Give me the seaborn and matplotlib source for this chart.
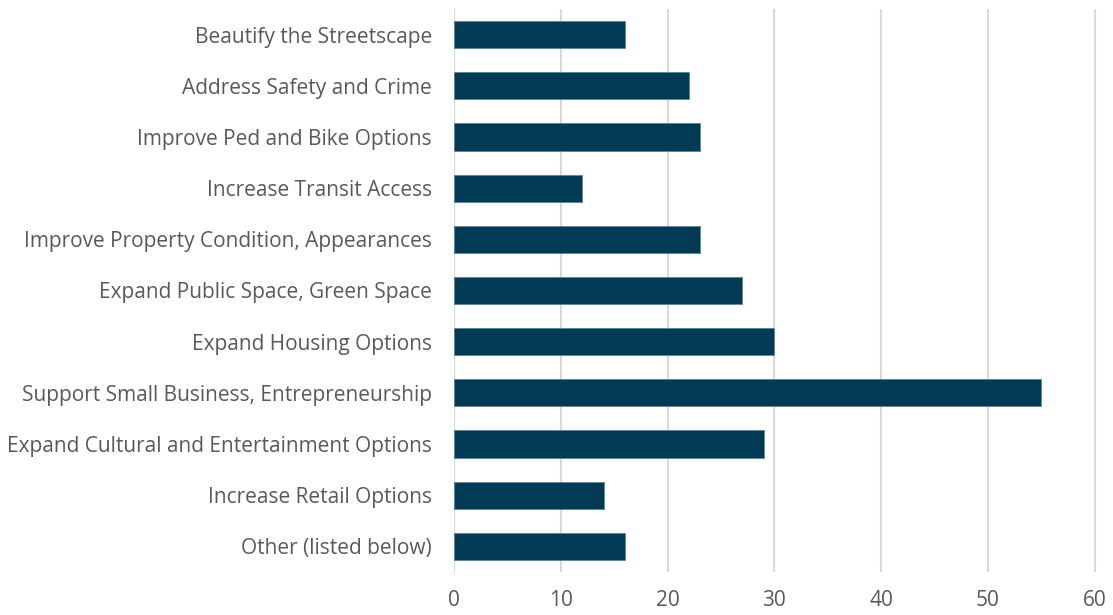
import matplotlib
matplotlib.use("Agg")
import matplotlib.pyplot as plt
import seaborn as sns
import pandas as pd

categories = [
    "Beautify the Streetscape",
    "Address Safety and Crime",
    "Improve Ped and Bike Options",
    "Increase Transit Access",
    "Improve Property Condition, Appearances",
    "Expand Public Space, Green Space",
    "Expand Housing Options",
    "Support Small Business, Entrepreneurship",
    "Expand Cultural and Entertainment Options",
    "Increase Retail Options",
    "Other (listed below)",
]
values = [16, 22, 23, 12, 23, 27, 30, 55, 29, 14, 16]
x_ticks = [0, 10, 20, 30, 40, 50, 60]

df = pd.DataFrame({"category": categories, "value": values})

sns.set_theme(style="white")
plt.rcParams["font.family"] = ["Open Sans", "DejaVu Sans"]

fig = plt.figure(figsize=(11.13, 6.15), dpi=100)
ax = fig.add_axes([0.4079, 0.0699, 0.5786, 0.9155])

sns.barplot(data=df, x="value", y="category", orient="h", color="#003A54",
            saturation=1, width=0.53, edgecolor="#5f8599", linewidth=0.6, ax=ax, zorder=3)

ax.set_xlim(0, 60.3)
ax.set_ylim(10.5, -0.5)
ax.set_xticks(x_ticks)
ax.grid(axis="x", color="#d9d9d9", linewidth=1.5, zorder=0)
ax.set_axisbelow(True)
for s in ax.spines.values():
    s.set_visible(False)
ax.set_xlabel("")
ax.set_ylabel("")
ax.tick_params(axis="x", labelsize=15, labelcolor="#595959", pad=13, length=0)
ax.tick_params(axis="y", labelsize=15, labelcolor="#595959", pad=16, length=0)

fig.savefig("out.png", dpi=100)
